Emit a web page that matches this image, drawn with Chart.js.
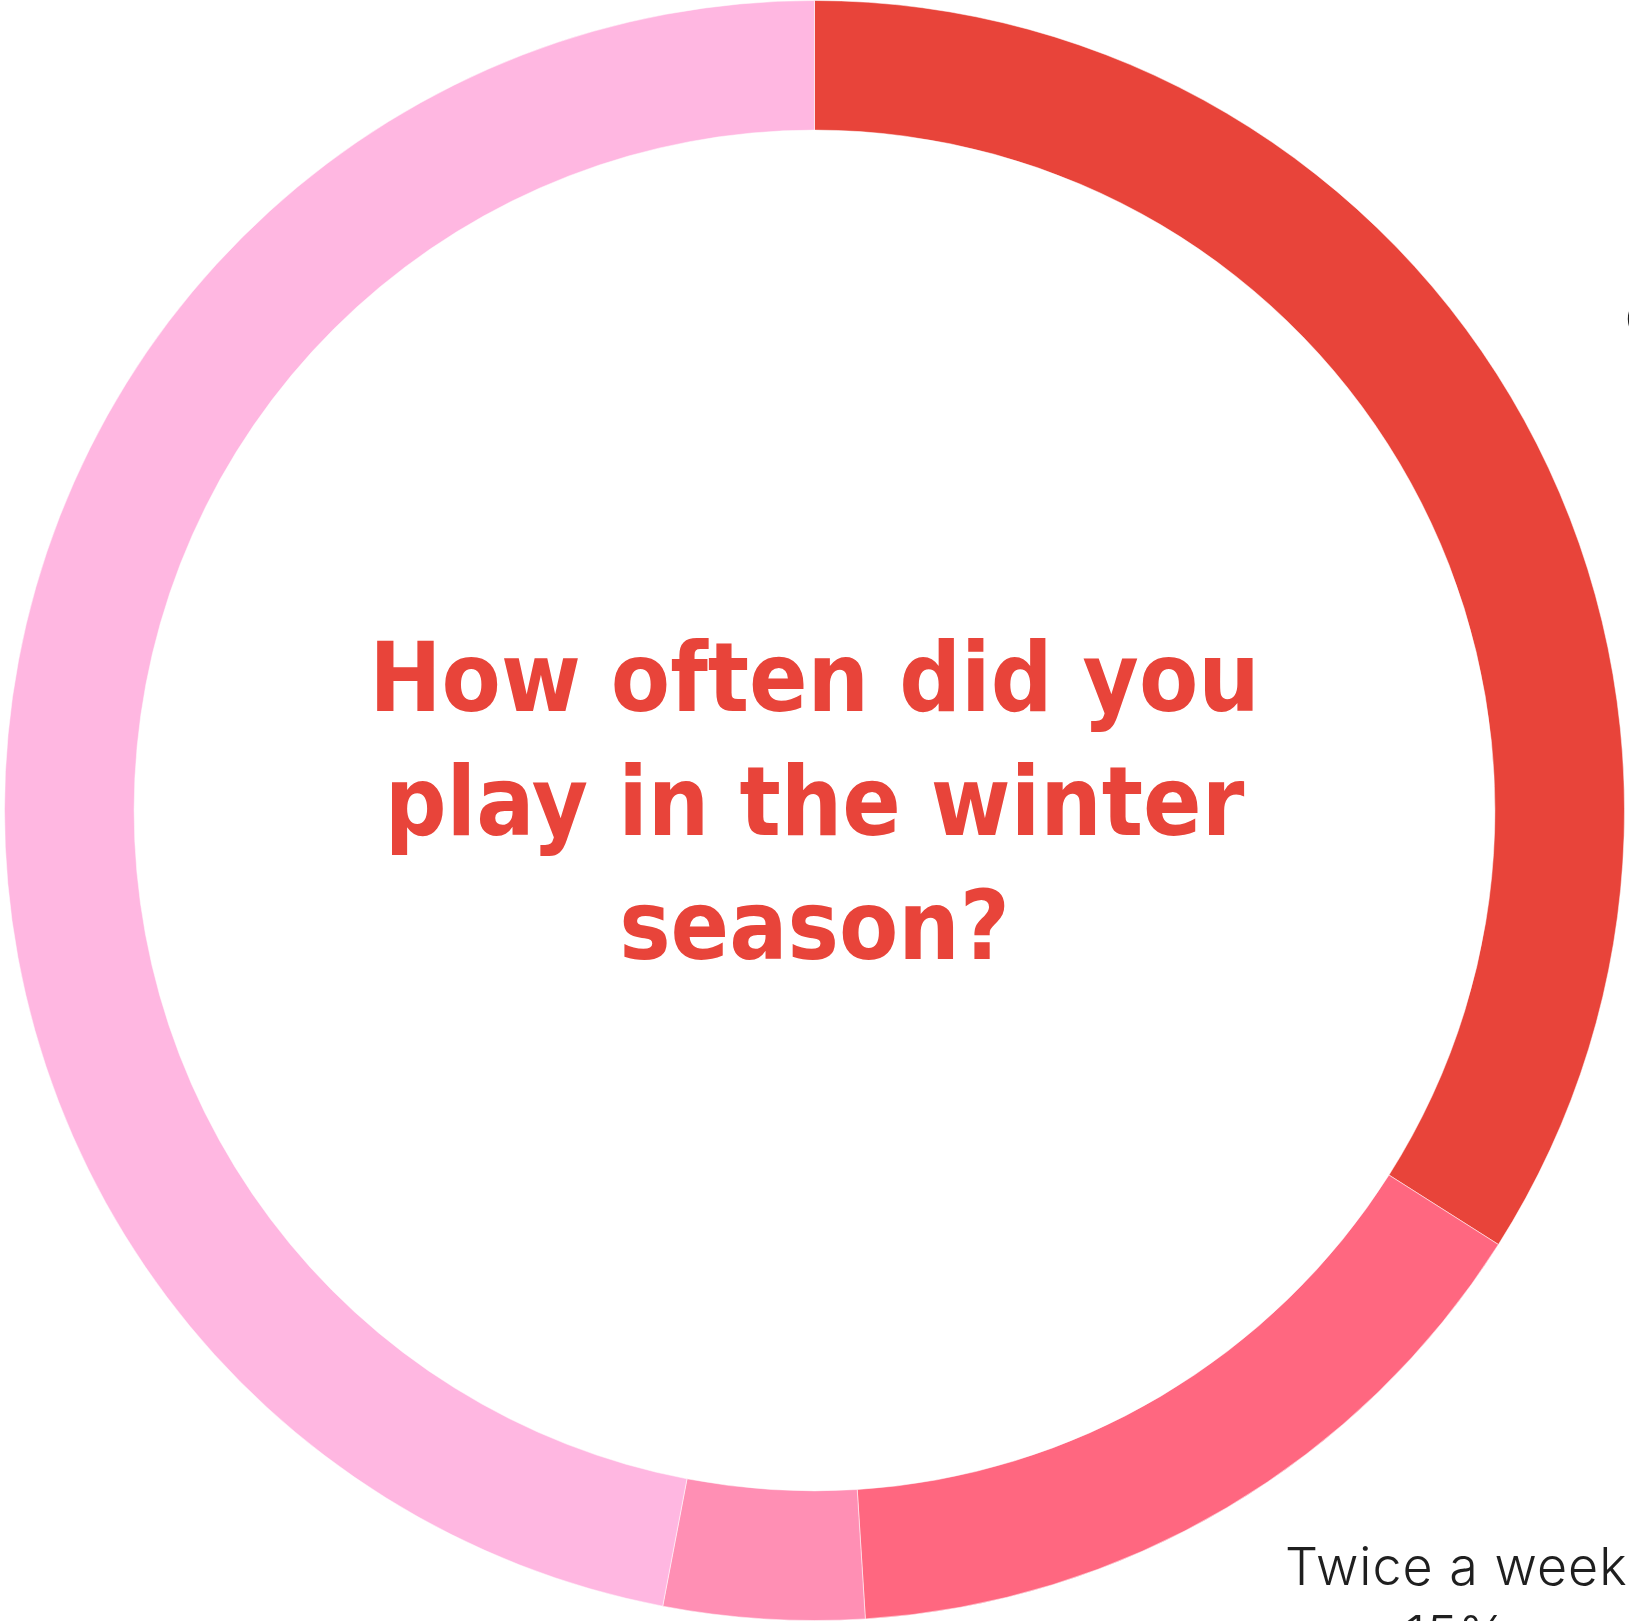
<!DOCTYPE html>
<html lang="en">
<head>
    <meta charset="UTF-8">
    <title>Winter season play frequency</title>
    <script src="https://cdn.jsdelivr.net/npm/chart.js"></script>
    <style>
        html, body { margin: 0; padding: 0; background: #fff; overflow: hidden; }
        #wrap { position: relative; width: 1629px; height: 1621px; }
    </style>
</head>
<body>
    <div id="wrap"><canvas id="playChart"></canvas></div>

    <script>
        // survey answers, in drawing order (clockwise from 12 o'clock)
        const categories = ['Once a week', 'Twice a week', 'Once a month', 'Not at all'];
        const shares = [34, 15, 4, 47];
        const sliceColors = ['#E8443A', '#FF6780', '#FF8FB4', '#FFB7E1'];
        const titleLines = ['How often did you', 'play in the winter', 'season?'];

        // outside labels: left edge of first line, baseline, relative to centre in outer radii
        const outLabelSpots = {
            0: { x: 1.0, y: -0.583 },
            1: { x: 0.581, y: 0.956 }
        };

        const centerTitle = {
            id: 'centerTitle',
            afterDraw(chart) {
                const arc = chart.getDatasetMeta(0).data[0];
                const ctx = chart.ctx;
                const gap = arc.outerRadius * 0.153;
                ctx.save();
                ctx.translate(arc.x, arc.y);
                ctx.scale(0.9, 1);   // squeeze the wide bold face a little
                ctx.fillStyle = '#E8443A';
                ctx.textAlign = 'center';
                ctx.textBaseline = 'alphabetic';
                ctx.font = 'bold 96px "DejaVu Sans"';
                titleLines.forEach((line, i) => {
                    ctx.fillText(line, 0, -arc.outerRadius * 0.123 + i * gap);
                });
                ctx.restore();
            }
        };

        const outLabels = {
            id: 'outLabels',
            afterDraw(chart) {
                const arcs = chart.getDatasetMeta(0).data;
                const ctx = chart.ctx;
                ctx.save();
                ctx.fillStyle = '#1f1f1f';
                ctx.font = '300 52px Inter';
                ctx.letterSpacing = '1px';
                ctx.textAlign = 'center';
                arcs.forEach((arc, i) => {
                    const spot = outLabelSpots[i];
                    if (!spot) return;
                    const r = arc.outerRadius;
                    const left = arc.x + spot.x * r;
                    const base = arc.y + spot.y * r;
                    const w = ctx.measureText(categories[i]).width;
                    ctx.fillText(categories[i], left + w / 2, base);
                    ctx.fillText(shares[i] + '%', left + w / 2, base + 68);
                });
                ctx.restore();
            }
        };

        new Chart(document.getElementById('playChart'), {
            type: 'doughnut',
            data: {
                labels: categories,
                datasets: [{
                    data: shares,
                    backgroundColor: sliceColors,
                    borderColor: 'rgba(255,255,255,0.5)',
                    borderWidth: 1
                }]
            },
            options: {
                responsive: true,
                maintainAspectRatio: false,
                animation: false,
                cutout: '84%',
                layout: { padding: 0 },
                plugins: {
                    legend: { display: false },
                    tooltip: { enabled: false }
                }
            },
            plugins: [centerTitle, outLabels]
        });
    </script>
</body>
</html>
